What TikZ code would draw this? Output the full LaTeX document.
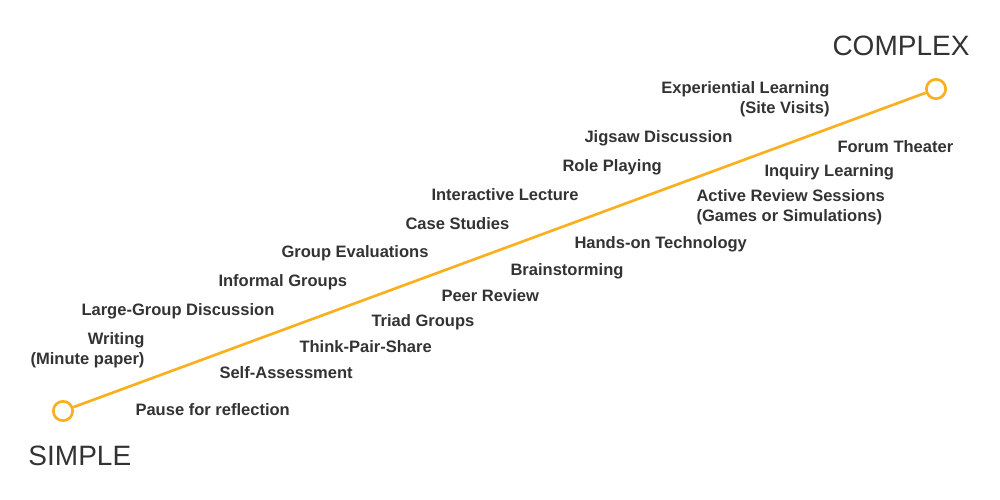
\documentclass[tikz,border=0pt]{standalone}
\usepackage{fontspec}
\setmainfont{Liberation Sans}
\definecolor{lineorange}{RGB}{250,176,30}
\definecolor{labelgray}{RGB}{51,51,51}
\tikzset{every picture/.style={line width=0.75pt}}
\tikzset{
  endpoint/.style={circle,draw=lineorange,fill=white,line width=2pt,minimum size=14.5pt,inner sep=0pt},
  activity/.style={anchor=west,inner sep=0pt,yshift=-1.5pt,text=labelgray,font=\fontsize{12.4}{15}\selectfont\bfseries},
  level/.style={anchor=west,inner sep=0pt,text=labelgray,font=\fontsize{21}{25}\selectfont}
}

\begin{document}
\begin{tikzpicture}[x=0.75pt,y=0.75pt,yscale=-1,xscale=1]
\useasboundingbox (0,0) rectangle (1000,500);

%Endpoints and scale line
\node [endpoint] (start) at (63,411) {};
\node [endpoint] (finish) at (936,89) {};
\draw [color=lineorange,line width=2pt] (start) -- (finish) ;

% Text Node
\node [level] (simple) at (28,456) {SIMPLE};
% Text Node
\node [level] (complex) at (832,46) {COMPLEX};

% Text Node
\node [activity,anchor=east,align=right] (writing) at (145,348) {Writing\\(Minute paper)};
% Text Node
\node [activity] (largegroup) at (81,309) {Large-Group Discussion};
% Text Node
\node [activity] (informal) at (218,280) {Informal Groups};
% Text Node
\node [activity] (groupeval) at (281,251) {Group Evaluations};
% Text Node
\node [activity] (casestudies) at (405,222) {Case Studies};
% Text Node
\node [activity] (lecture) at (431,193) {Interactive Lecture};
% Text Node
\node [activity] (roleplay) at (562,165) {Role Playing};
% Text Node
\node [activity] (jigsaw) at (584,136) {Jigsaw Discussion};
% Text Node
\node [activity,anchor=east,align=right] (experiential) at (830,97) {Experiential Learning\\(Site Visits)};

% Text Node
\node [activity] (pause) at (135,408) {Pause for reflection};
% Text Node
\node [activity] (selfassess) at (219,371) {Self-Assessment};
% Text Node
\node [activity] (tps) at (299,345) {Think-Pair-Share};
% Text Node
\node [activity] (triad) at (371,320) {Triad Groups};
% Text Node
\node [activity] (peer) at (441,294) {Peer Review};
% Text Node
\node [activity] (brainstorm) at (510,269) {Brainstorming};
% Text Node
\node [activity] (handson) at (574,242) {Hands-on Technology};
% Text Node
\node [activity,align=left] (review) at (696,205) {Active Review Sessions\\(Games or Simulations)};
% Text Node
\node [activity] (inquiry) at (764,170) {Inquiry Learning};
% Text Node
\node [activity] (forum) at (837,145) {Forum Theater};

\end{tikzpicture}
\end{document}
